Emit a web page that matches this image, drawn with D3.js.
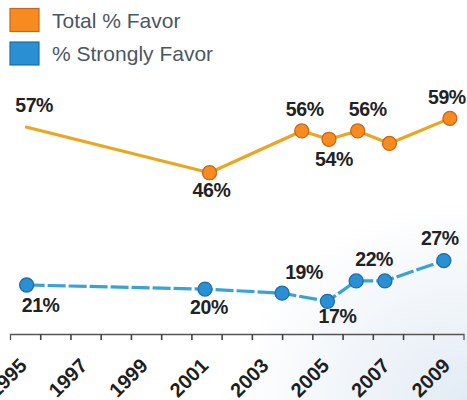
<!DOCTYPE html>
<html>
<head>
<meta charset="utf-8">
<script src="https://cdn.jsdelivr.net/npm/d3@7"></script>
<style>
  html, body { margin: 0; padding: 0; background: #fff; }
  svg { display: block; }
</style>
</head>
<body>
<svg id="chart" width="467" height="400"></svg>
<script>
// Survey results: share in favor, by year of survey
const favorYears   = [1995, 2001.1, 2004.15, 2005.05, 2006.0, 2007.05, 2009.05];
const favorValues  = [57, 46, 56, 54, 56, 53, 59];
const strongYears  = [1995.05, 2000.95, 2003.5, 2005.0, 2005.95, 2006.9, 2008.85];
const strongValues = [21, 20, 19, 17, 22, 22, 27];
const yearLabels   = [1995, 1997, 1999, 2001, 2003, 2005, 2007, 2009];
const legendNames  = ["Total % Favor", "% Strongly Favor"];

// which points carry a value label, and where it sits relative to the point
const favorLabelPlace  = [[9, -14.5], [2, 24], [3, -15], [5, 27], [10, -14.5], null, [-3, -14]];
const strongLabelPlace = [[14, 26.5], [4, 25], [22, -14], [10, 22], [18, -14.5], null, [-4, -15.5]];

const svg = d3.select("#chart");
const W = 467, H = 400;

// soft blue wash in the lower right corner
const defs = svg.append("defs");
const grad = defs.append("radialGradient").attr("id", "wash")
  .attr("cx", 1).attr("cy", 1).attr("r", 0.5);
grad.append("stop").attr("offset", "0%").attr("stop-color", "#e2ebf4");
grad.append("stop").attr("offset", "100%").attr("stop-color", "#ffffff");
svg.append("rect").attr("width", W).attr("height", H).attr("fill", "url(#wash)");

const x = d3.scaleLinear().domain([1994.5, 2009.5]).range([10, 463.5]);
const yFavor  = d3.scaleLinear().domain([40, 60]).range([197.8, 114.2]);
const yStrong = d3.scaleLinear().domain([15, 30]).range([309.5, 248.3]);

const series = [
  { years: favorYears, values: favorValues, y: yFavor, place: favorLabelPlace,
    line: "#eea51d", fill: "#f78b1f", edge: "#c9661b", dash: null, skipFirstMarker: true },
  { years: strongYears, values: strongValues, y: yStrong, place: strongLabelPlace,
    line: "#3aa2da", fill: "#2a90d3", edge: "#1b6ea9", dash: "18,3", skipFirstMarker: false }
];

// legend
const legend = svg.append("g");
series.forEach((s, i) => {
  const g = legend.append("g").attr("transform", `translate(10, ${8.5 + i * 33.5})`);
  g.append("rect").attr("width", 29).attr("height", 23)
    .attr("fill", s.fill).attr("stroke", s.edge).attr("stroke-width", 1.2);
  g.append("text").attr("x", 42).attr("y", 19)
    .attr("font-family", "Liberation Sans, Arial, sans-serif")
    .attr("font-size", 21).attr("fill", "#4b5763")
    .text(legendNames[i]);
});

// x axis: ticks at year boundaries, labels at year centres
const axisY = 334;
const axis = d3.axisBottom(x)
  .tickValues(d3.range(1995.5, 2009.5, 1))
  .tickSize(6).tickSizeOuter(6).tickFormat("");
const ag = svg.append("g").attr("transform", `translate(0, ${axisY})`).call(axis);
ag.select(".domain").attr("stroke", "#555").attr("stroke-width", 1.3);
ag.selectAll(".tick line").attr("stroke", "#444").attr("stroke-width", 1.6);

svg.append("g").selectAll("text").data(yearLabels).join("text")
  .attr("transform", d => `translate(${x(d) + 3}, ${axisY + 33}) rotate(-45)`)
  .attr("text-anchor", "end")
  .attr("font-family", "Liberation Sans, Arial, sans-serif")
  .attr("font-weight", "bold")
  .attr("font-size", 20)
  .attr("fill", "#1f1f1f")
  .text(d => d);

// lines, markers and value labels
series.forEach(s => {
  const pts = s.years.map((yr, i) => ({ yr, v: s.values[i], i }));
  const line = d3.line().x(d => x(d.yr)).y(d => s.y(d.v));
  svg.append("path").datum(pts)
    .attr("d", line).attr("fill", "none")
    .attr("stroke", s.line).attr("stroke-width", 3.2)
    .attr("stroke-linejoin", "round")
    .attr("stroke-dasharray", s.dash);

  svg.append("g").selectAll("circle")
    .data(pts.filter(d => !(s.skipFirstMarker && d.i === 0)))
    .join("circle")
    .attr("cx", d => x(d.yr)).attr("cy", d => s.y(d.v)).attr("r", 7)
    .attr("fill", s.fill).attr("stroke", s.edge).attr("stroke-width", 1.3);

  svg.append("g").selectAll("text")
    .data(pts.filter(d => s.place[d.i]))
    .join("text")
    .attr("x", d => x(d.yr) + s.place[d.i][0])
    .attr("y", d => s.y(d.v) + s.place[d.i][1])
    .attr("text-anchor", "middle")
    .attr("font-family", "Liberation Sans, Arial, sans-serif")
    .attr("font-weight", "bold")
    .attr("font-size", 19.5)
    .attr("letter-spacing", -0.4)
    .attr("fill", "#222")
    .text(d => `${d.v}%`);
});
</script>
</body>
</html>
